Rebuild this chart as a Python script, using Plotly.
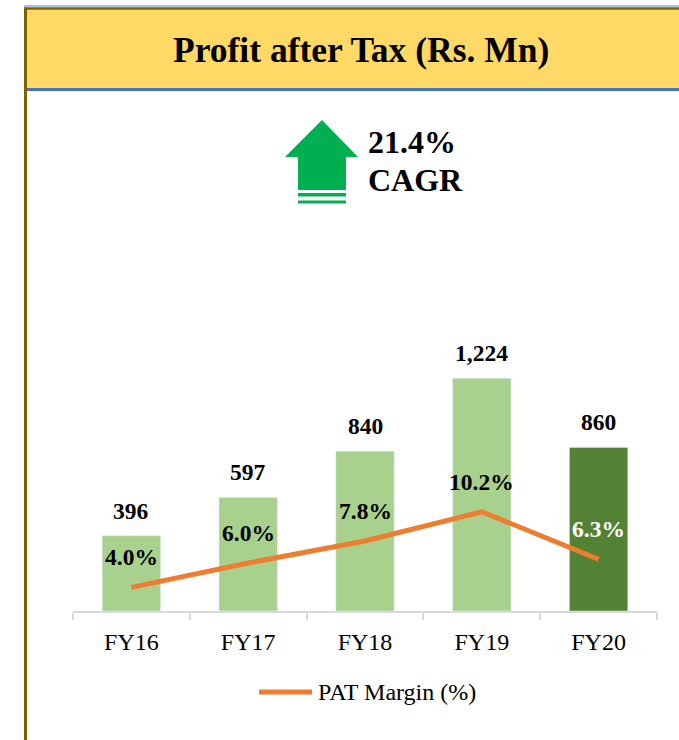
import plotly.graph_objects as go

# data
years = ["FY16", "FY17", "FY18", "FY19", "FY20"]
pat = [396, 597, 840, 1224, 860]
pat_margin = [4.0, 6.0, 7.8, 10.2, 6.3]
cagr = "21.4%"
title = "Profit after Tax (Rs. Mn)"

FONT = "Liberation Serif"
W, H = 679, 740
# plot area in pixels
L, R, T, B = 73, 657, 313, 611


def px(x):
    return (x - L) / (R - L)


def py(y):
    return (B - y) / (B - T)


bar_colors = ["#A9D18E"] * (len(years) - 1) + ["#548235"]
pct_colors = ["black"] * (len(years) - 1) + ["white"]

fig = go.Figure()

fig.add_trace(go.Bar(
    x=years, y=pat, marker_color=bar_colors, width=0.5,
    showlegend=False, hoverinfo="skip",
))
fig.add_trace(go.Scatter(
    x=years, y=pat_margin, yaxis="y2", mode="lines",
    line=dict(color="#ED7D31", width=5),
    name="PAT Margin (%)", showlegend=False,
))

annotations = []
for yr, v in zip(years, pat):
    annotations.append(dict(
        x=yr, y=v, xref="x", yref="y", text=f"<b>{v:,}</b>",
        showarrow=False, yanchor="middle", yshift=25,
        font=dict(family=FONT, size=23.5, color="black"),
    ))
for yr, m, c in zip(years, pat_margin, pct_colors):
    annotations.append(dict(
        x=yr, y=m, xref="x", yref="y2", text=f"<b>{m:.1f}%</b>",
        showarrow=False, yanchor="middle", yshift=30,
        font=dict(family=FONT, size=23.5, color=c),
    ))

# header title
annotations.append(dict(
    x=px(361), y=py(50), xref="paper", yref="paper", text=f"<b>{title}</b>",
    showarrow=False, xanchor="center", yanchor="middle",
    font=dict(family=FONT, size=35.5, color="black"),
))
# CAGR callout
annotations.append(dict(
    x=px(366), y=py(142), xref="paper", yref="paper", text=f"<b>{cagr}</b>",
    showarrow=False, xanchor="left", yanchor="middle",
    font=dict(family=FONT, size=32, color="black"),
))
annotations.append(dict(
    x=px(366), y=py(180), xref="paper", yref="paper", text="<b>CAGR</b>",
    showarrow=False, xanchor="left", yanchor="middle",
    font=dict(family=FONT, size=32, color="black"),
))
# legend text
annotations.append(dict(
    x=px(316), y=py(692), xref="paper", yref="paper", text="PAT Margin (%)",
    showarrow=False, xanchor="left", yanchor="middle",
    font=dict(family=FONT, size=24, color="black"),
))

arrow_path = "M{},{} L{},{} L{},{} L{},{} L{},{} L{},{} L{},{} Z".format(
    px(322), py(120), px(358), py(157), px(346), py(157), px(346), py(190),
    px(298), py(190), px(298), py(157), px(285), py(157),
)

shapes = [
    # header band
    dict(type="rect", xref="paper", yref="paper", x0=px(25), x1=px(690),
         y0=py(8), y1=py(89), fillcolor="#FFD966", line_width=0, layer="below"),
    dict(type="line", xref="paper", yref="paper", x0=px(24), x1=px(690),
         y0=py(6), y1=py(6), line=dict(color="#8EA9DB", width=1.5)),
    dict(type="line", xref="paper", yref="paper", x0=px(24), x1=px(690),
         y0=py(8.5), y1=py(8.5), line=dict(color="#7F6000", width=2.5)),
    dict(type="line", xref="paper", yref="paper", x0=px(25), x1=px(690),
         y0=py(89.5), y1=py(89.5), line=dict(color="#4472C4", width=3)),
    dict(type="line", xref="paper", yref="paper", x0=px(25.5), x1=px(25.5),
         y0=py(7.5), y1=py(745), line=dict(color="#7F6000", width=3)),
    # arrow
    dict(type="path", xref="paper", yref="paper", path=arrow_path,
         fillcolor="#00B050", line_width=0),
    dict(type="rect", xref="paper", yref="paper", x0=px(298), x1=px(346),
         y0=py(193), y1=py(196.5), fillcolor="#00B050", line_width=0),
    dict(type="rect", xref="paper", yref="paper", x0=px(298), x1=px(346),
         y0=py(200.5), y1=py(203.5), fillcolor="#00B050", line_width=0),
    # legend line
    dict(type="line", xref="paper", yref="paper", x0=px(259), x1=px(312),
         y0=py(692), y1=py(692), line=dict(color="#ED7D31", width=5)),
]

fig.update_layout(
    width=W, height=H,
    margin=dict(l=L, r=W - R, t=T, b=H - B),
    paper_bgcolor="white", plot_bgcolor="white",
    font=dict(family=FONT, color="black"),
    bargap=0.5,
    xaxis=dict(
        type="category", range=[-0.5, len(years) - 0.5],
        showline=True, linecolor="#D9D9D9", linewidth=1.5,
        ticks="outside", tickson="boundaries", ticklen=7, tickcolor="#D9D9D9",
        tickwidth=1.5, showgrid=False, tickfont=dict(size=24, color="black"),
        ticklabelstandoff=8,
    ),
    yaxis=dict(range=[0, 1567], visible=False, showgrid=False),
    yaxis2=dict(range=[2.06, 26.5], overlaying="y", visible=False, showgrid=False),
    annotations=annotations,
    shapes=shapes,
)

# drop the default page margin so the figure sits at the window corner
fig.write_html("out.html", config={"displayModeBar": False},
               post_script="document.body.style.margin='0';")
